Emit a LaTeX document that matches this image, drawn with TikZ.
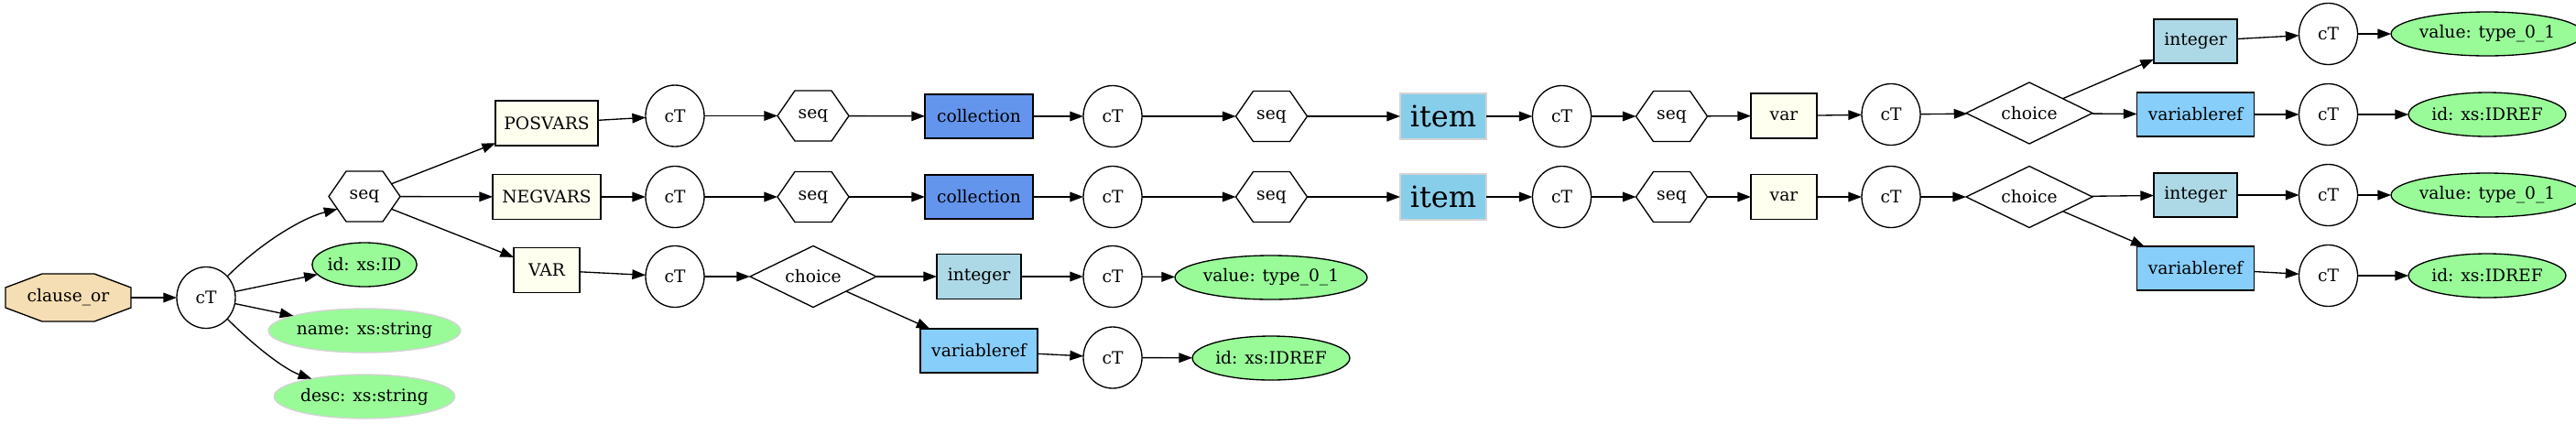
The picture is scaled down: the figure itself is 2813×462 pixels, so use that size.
\documentclass[tikz,border=0pt]{standalone}
\usepackage{fontspec}
\setmainfont{DejaVu Serif}
\usetikzlibrary{shapes.geometric,arrows.meta}
\definecolor{cWheat}{HTML}{F5DEB3}
\definecolor{cIvory}{HTML}{FFFFF0}
\definecolor{cCorn}{HTML}{6495ED}
\definecolor{cSky}{HTML}{87CEEB}
\definecolor{cLBlue}{HTML}{ADD8E6}
\definecolor{cLSky}{HTML}{87CEFA}
\definecolor{cPGreen}{HTML}{98FB98}
\definecolor{cLGray}{HTML}{D3D3D3}
\tikzset{
  base/.style={inner sep=0pt, outer sep=0pt, line width=1pt, font=\fontsize{14}{16}\selectfont},
  ctn/.style={base, ellipse, draw, fill=white, minimum width=48pt, minimum height=50.25pt},
  hexn/.style={base, rectangle, minimum width=58.5pt, minimum height=41.25pt},
  choicen/.style={base, diamond, draw, fill=white, aspect=2, minimum width=103.5pt, minimum height=50.25pt},
  ivbox/.style={base, rectangle, draw, fill=cIvory, minimum height=36.75pt},
  collbox/.style={base, rectangle, draw, fill=cCorn, minimum width=88.5pt, minimum height=36pt},
  intbox/.style={base, rectangle, draw, fill=cLBlue, minimum width=69pt, minimum height=36.75pt},
  vrefbox/.style={base, rectangle, draw, fill=cLSky, minimum width=96pt, minimum height=36pt},
  itembox/.style={base, rectangle, draw=cLGray, fill=cSky, minimum width=70.5pt, minimum height=37.5pt, font=\fontsize{24}{28}\selectfont},
  attr/.style={base, ellipse, draw, fill=cPGreen, minimum height=36pt},
  attrl/.style={base, ellipse, draw=cLGray, fill=cPGreen, minimum height=36pt},
  octn/.style={base, rectangle, minimum width=102.75pt, minimum height=39pt},
  arr/.style={-{Triangle[length=11pt,width=8pt]}, line width=1pt},
}
\newcommand\hexnode[3]{%
  \node[hexn] (#1) at (#2) {#3};
  \draw[line width=1pt] (#1.center) +(-39,0) -- +(-20,-27.5) -- +(20,-27.5) -- +(39,0) -- +(20,27.5) -- +(-20,27.5) -- cycle;
  \path (#1.center) +(-29.5,-13.75) coordinate (#1-nw) +(29.5,-13.75) coordinate (#1-ne)
        +(-29.5,13.75) coordinate (#1-sw) +(29.5,13.75) coordinate (#1-se);
}
\begin{document}
\begin{tikzpicture}[x=0.75pt,y=-0.75pt]
\useasboundingbox (0,0) rectangle (2813,462);
% root
\filldraw[fill=cWheat, line width=1pt] (74.5,325) +(-68.5,-11) -- +(-28.5,-26) -- +(28.5,-26) -- +(68.5,-11)
   -- +(68.5,11) -- +(28.5,26) -- +(-28.5,26) -- +(-68.5,11) -- cycle;
\node[octn] (co) at (74.5,325) {clause\_or};
\node[ctn] (ct0) at (225,325) {cT};
\hexnode{seq0}{398,214.5}{seq}
\node[attr, minimum width=84.75pt] (idA) at (398,289) {id: xs:ID};
\node[attrl, minimum width=138.75pt] (nameA) at (398,361) {name: xs:string};
\node[attrl, minimum width=130.5pt] (descA) at (398,433) {desc: xs:string};
% column 1
\node[ivbox, minimum width=84pt] (pos) at (597,134.5) {POSVARS};
\node[ivbox, minimum width=88.5pt] (neg) at (597,215) {NEGVARS};
\node[ivbox, minimum width=54pt] (var0) at (597,295) {VAR};
\node[ctn] (ct1a) at (737,126.5) {cT};
\node[ctn] (ct2a) at (737,215) {cT};
\node[ctn] (ct3a) at (737,302) {cT};
\hexnode{seq1a}{888,126.5}{seq}
\hexnode{seq2a}{888,215}{seq}
\node[choicen] (ch3) at (888,302) {choice};
\node[collbox] (coll1) at (1069,127) {collection};
\node[collbox] (coll2) at (1069,215) {collection};
\node[intbox] (int3) at (1069,302) {integer};
\node[vrefbox] (vref3) at (1069,383) {variableref};
\node[ctn] (ct1b) at (1215,127) {cT};
\node[ctn] (ct2b) at (1215,215) {cT};
\node[ctn] (ct3b) at (1215,302) {cT};
\node[ctn] (ct4b) at (1215,390.5) {cT};
\hexnode{seq1b}{1388.5,127}{seq}
\hexnode{seq2b}{1388.5,215}{seq}
\node[attr, minimum width=138pt] (val3) at (1388,303) {value: type\_0\_1};
\node[attr, minimum width=114pt] (idref4) at (1388,391) {id: xs:IDREF};
\node[itembox] (item1) at (1576,127) {item};
\node[itembox] (item2) at (1576,215) {item};
\node[ctn] (ct1c) at (1705.5,127) {cT};
\node[ctn] (ct2c) at (1705.5,215) {cT};
\hexnode{seq1c}{1825.5,127}{seq}
\hexnode{seq2c}{1825.5,215}{seq}
\node[ivbox, minimum width=54pt] (var1) at (1948,126.5) {var};
\node[ivbox, minimum width=54pt] (var2) at (1948,215) {var};
\node[ctn] (ct1d) at (2065,125) {cT};
\node[ctn] (ct2d) at (2065,215) {cT};
\node[choicen] (ch1) at (2216,123.5) {choice};
\node[choicen] (ch2) at (2216,215) {choice};
\node[intbox, minimum width=68.25pt, minimum height=36pt] (intR0) at (2397.5,45) {integer};
\node[vrefbox] (vrefR1) at (2397.5,125) {variableref};
\node[intbox, minimum width=68.25pt, minimum height=36pt] (intR2) at (2397.5,213) {integer};
\node[vrefbox] (vrefR3) at (2397.5,293) {variableref};
\node[ctn] (ctR0) at (2542.5,37) {cT};
\node[ctn] (ctR1) at (2542.5,125) {cT};
\node[ctn] (ctR2) at (2542.5,213) {cT};
\node[ctn] (ctR3) at (2542.5,301) {cT};
\node[attr, minimum width=138pt] (valR0) at (2716,37) {value: type\_0\_1};
\node[attr, minimum width=113.25pt] (idrefR1) at (2716,125) {id: xs:IDREF};
\node[attr, minimum width=138pt] (valR2) at (2716,213) {value: type\_0\_1};
\node[attr, minimum width=113.25pt] (idrefR3) at (2716,301) {id: xs:IDREF};
% edges
\draw[arr] (co) -- (ct0);
\draw[arr] (ct0) .. controls (285,265) and (330,238) .. (seq0-sw);
\draw[arr] (ct0) -- (idA);
\draw[arr] (ct0) -- (nameA);
\draw[arr] (ct0) .. controls (285,385) and (315,405) .. (descA);
\draw[arr] (seq0-ne) -- (pos);
\draw[arr] (seq0) -- (neg);
\draw[arr] (seq0-se) -- (var0);
% row 1
\draw[arr] (pos) -- (ct1a);
\draw[arr] (ct1a) -- (seq1a);
\draw[arr] (seq1a) -- (coll1);
\draw[arr] (coll1) -- (ct1b);
\draw[arr] (ct1b) -- (seq1b);
\draw[arr] (seq1b) -- (item1);
\draw[arr] (item1) -- (ct1c);
\draw[arr] (ct1c) -- (seq1c);
\draw[arr] (seq1c) -- (var1);
\draw[arr] (var1) -- (ct1d);
\draw[arr] (ct1d) -- (ch1);
\draw[arr] (ch1) -- (intR0);
\draw[arr] (ch1) -- (vrefR1);
\draw[arr] (intR0) -- (ctR0);
\draw[arr] (ctR0) -- (valR0);
\draw[arr] (vrefR1) -- (ctR1);
\draw[arr] (ctR1) -- (idrefR1);
% row 2
\draw[arr] (neg) -- (ct2a);
\draw[arr] (ct2a) -- (seq2a);
\draw[arr] (seq2a) -- (coll2);
\draw[arr] (coll2) -- (ct2b);
\draw[arr] (ct2b) -- (seq2b);
\draw[arr] (seq2b) -- (item2);
\draw[arr] (item2) -- (ct2c);
\draw[arr] (ct2c) -- (seq2c);
\draw[arr] (seq2c) -- (var2);
\draw[arr] (var2) -- (ct2d);
\draw[arr] (ct2d) -- (ch2);
\draw[arr] (ch2) -- (intR2);
\draw[arr] (ch2) -- (vrefR3);
\draw[arr] (intR2) -- (ctR2);
\draw[arr] (ctR2) -- (valR2);
\draw[arr] (vrefR3) -- (ctR3);
\draw[arr] (ctR3) -- (idrefR3);
% row 3
\draw[arr] (var0) -- (ct3a);
\draw[arr] (ct3a) -- (ch3);
\draw[arr] (ch3) -- (int3);
\draw[arr] (ch3) -- (vref3);
\draw[arr] (int3) -- (ct3b);
\draw[arr] (ct3b) -- (val3);
\draw[arr] (vref3) -- (ct4b);
\draw[arr] (ct4b) -- (idref4);
\end{tikzpicture}
\end{document}
